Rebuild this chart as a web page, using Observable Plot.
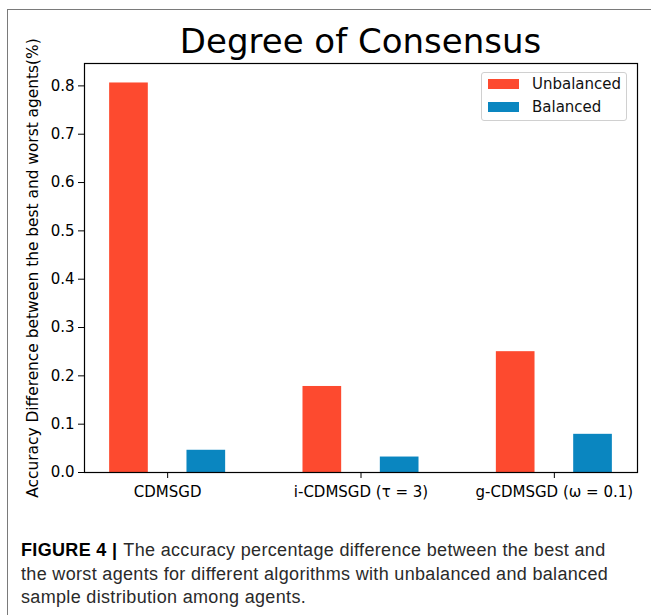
<!DOCTYPE html>
<html>
<head>
<meta charset="utf-8">
<script src="https://cdn.jsdelivr.net/npm/d3@7"></script>
<script src="https://cdn.jsdelivr.net/npm/@observablehq/plot@0.6"></script>
<style>
  html, body { margin: 0; padding: 0; background: #fff; }
  #wrap { position: relative; width: 651px; height: 615px; overflow: hidden; font-family: "DejaVu Sans", sans-serif; }
  #wrap svg { position: absolute; left: 0; top: 0; }
  .frameTop { position: absolute; left: 7px; top: 9px; width: 644px; height: 0; border-top: 1.5px solid #7a7a7a; }
  .frameLeft { position: absolute; left: 7px; top: 9px; width: 0; height: 606px; border-left: 1.5px solid #7a7a7a; }
  #title { position: absolute; left: 84px; width: 553px; top: 20px; text-align: center; font-size: 34px; color: #000; line-height: 42px; white-space: nowrap; }
  #legend { position: absolute; left: 481px; top: 72px; width: 146px; height: 49px; border: 1px solid #d0d0d0; border-radius: 3px; background: rgba(255,255,255,0.8); box-sizing: border-box; }
  .li { position: absolute; left: 6px; height: 20px; font-size: 15px; line-height: 20px; color: #111; }
  .sw { position: absolute; left: 0; top: 5px; width: 31px; height: 10px; }
  .lt { position: absolute; left: 44px; top: 0; white-space: nowrap; }
  #caption { position: absolute; left: 21px; top: 539px; width: 625px; font-family: "Liberation Sans", Arial, sans-serif; font-size: 18px; letter-spacing: 0.33px; line-height: 23.5px; color: #2a2a2a; white-space: nowrap; }
  #caption .line { display: block; }
  #caption b { color: #000; margin-right: 1px; }
</style>
</head>
<body>
<div id="wrap">
  <div class="frameTop"></div>
  <div class="frameLeft"></div>
  <div id="chart"></div>
  <div id="title">Degree of Consensus</div>
  <div id="legend"></div>
  <div id="caption"><span class="line"><b>FIGURE 4 |</b> The accuracy percentage difference between the best and</span><span class="line">the worst agents for different algorithms with unbalanced and balanced</span><span class="line">sample distribution among agents.</span></div>
</div>
<script>
// ---- data ----
const algorithms = ["CDMSGD", "i-CDMSGD (τ = 3)", "g-CDMSGD (ω = 0.1)"];
const seriesNames = ["Unbalanced", "Balanced"];
const unbalanced = [0.806, 0.178, 0.250];
const balanced = [0.046, 0.032, 0.079];
const yTicks = [0.0, 0.1, 0.2, 0.3, 0.4, 0.5, 0.6, 0.7, 0.8];
const colors = ["#fd4a2f", "#0a86c0"];

const barWidth = 0.2;
const seriesOffset = [-0.2, 0.2];

const rows = [];
algorithms.forEach((a, i) => {
  rows.push({alg: a, idx: i, series: seriesNames[0], s: 0, value: unbalanced[i]});
  rows.push({alg: a, idx: i, series: seriesNames[1], s: 1, value: balanced[i]});
});

const yMax = Math.max(...unbalanced, ...balanced) * 1.05;

const chart = Plot.plot({
  width: 651,
  height: 615,
  marginLeft: 84,
  marginRight: 14,
  marginTop: 63,
  marginBottom: 143,
  style: {fontFamily: "DejaVu Sans, sans-serif", fontSize: "15px", color: "#000", background: "transparent", overflow: "visible"},
  x: {type: "linear", domain: [-0.43, algorithms.length - 1 + 0.43], axis: null},
  y: {domain: [0, yMax], axis: null},
  color: {domain: seriesNames, range: colors},
  marks: [
    Plot.rectY(rows, {
      x1: d => d.idx + seriesOffset[d.s] - barWidth / 2,
      x2: d => d.idx + seriesOffset[d.s] + barWidth / 2,
      y1: 0, y2: "value", fill: "series"
    }),
    Plot.axisY(yTicks, {
      tickSize: 6, tickPadding: 4, tickFormat: d3.format(".1f"), fontSize: 15,
      label: null
    }),
    Plot.text(["Accuracy Difference between the best and worst agents(%)"], {
      frameAnchor: "left", dx: -51, rotate: -90, text: d => d, fontSize: 15.4, textAnchor: "middle"
    }),
    Plot.axisX(d3.range(algorithms.length), {
      tickSize: 6, tickPadding: 8, tickFormat: i => algorithms[i], fontSize: 15, label: null
    }),
    Plot.frame({stroke: "#000", strokeWidth: 1.2})
  ]
});
document.getElementById("chart").appendChild(chart);

const legend = document.getElementById("legend");
seriesNames.forEach((n, i) => {
  const item = document.createElement("div");
  item.className = "li";
  item.style.top = (i === 0 ? 1 : 24) + "px";
  item.innerHTML = `<span class="sw" style="background:${colors[i]}"></span><span class="lt">${n}</span>`;
  legend.appendChild(item);
});
</script>
</body>
</html>
